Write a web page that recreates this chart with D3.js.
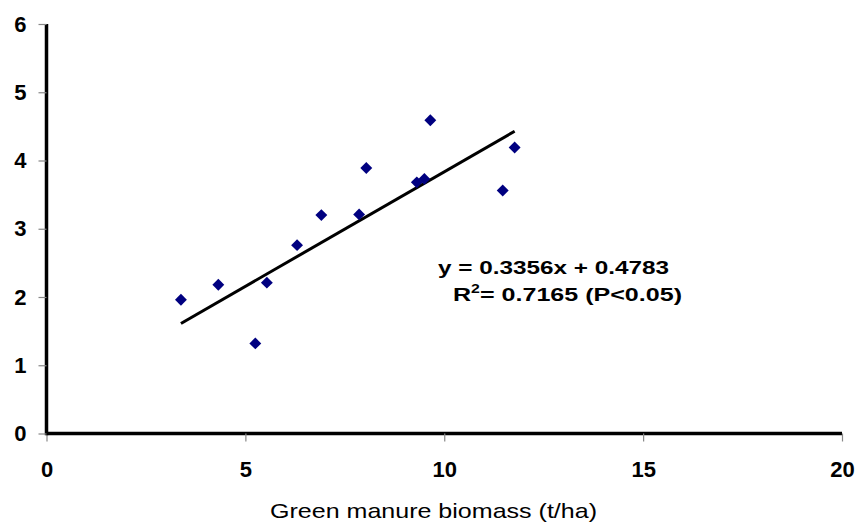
<!DOCTYPE html>
<html><head><meta charset="utf-8">
<script src="https://cdn.jsdelivr.net/npm/d3@7"></script>
<style>body{margin:0;background:#fff}svg{display:block}text{font-family:"Liberation Sans",Arial,sans-serif}</style>
</head><body>
<svg id="c" width="857" height="523"></svg>
<script>
const biomass = [3.38, 4.32, 5.25, 5.54, 6.30, 6.91, 7.86, 8.04, 9.31, 9.50, 9.65, 11.47, 11.77];
const yieldVals = [1.96, 2.18, 1.32, 2.21, 2.76, 3.20, 3.21, 3.89, 3.68, 3.73, 4.59, 3.56, 4.19];
const xTicks = [0, 5, 10, 15, 20];
const yTicks = [0, 1, 2, 3, 4, 5, 6];
const slope = 0.3356, intercept = 0.4783;
const eqText = "y = 0.3356x + 0.4783";
const xTitle = "Green manure biomass (t/ha)";

const svg = d3.select("#c");
const x = d3.scaleLinear().domain([0, 20]).range([46.5, 842]);
const y = d3.scaleLinear().domain([0, 6]).range([433.5, 24]);

// axes
const xa = svg.append("g").attr("transform", `translate(0,${y(0)})`)
  .call(d3.axisBottom(x).tickValues(xTicks).tickFormat(d3.format("d")).tickSize(8).tickPadding(20));
const ya = svg.append("g").attr("transform", `translate(${x(0)},0)`)
  .call(d3.axisLeft(y).tickValues(yTicks).tickFormat(d3.format("d")).tickSize(8).tickPadding(12));
[xa, ya].forEach(g => {
  g.select(".domain").attr("stroke", "#000").attr("stroke-width", 3.5);
  g.selectAll(".tick line").attr("stroke", "#888").attr("stroke-width", 1.2);
  g.selectAll(".tick text").attr("fill", "#000").attr("font-size", 22).attr("font-weight", "bold")
    .attr("font-family", "'Liberation Sans', Arial, sans-serif");
});
xa.select(".domain").attr("d", `M${x(0)},0H${x(20)}`);
ya.select(".domain").attr("d", `M0,${y(6)}V${y(0)+1.75}`);

// regression line
const xmin = d3.min(biomass), xmax = d3.max(biomass);
svg.append("line")
  .attr("x1", x(xmin)).attr("y1", y(slope * xmin + intercept))
  .attr("x2", x(xmax)).attr("y2", y(slope * xmax + intercept))
  .attr("stroke", "#000").attr("stroke-width", 3);

// points
const sym = d3.symbol().type(d3.symbolDiamond2).size(90);
svg.append("g").selectAll("path").data(biomass.map((b, i) => [b, yieldVals[i]]))
  .join("path")
  .attr("transform", d => `translate(${x(d[0])},${y(d[1])})`)
  .attr("d", sym).attr("fill", "#000080");

// equation
svg.append("text").attr("x", 438).attr("y", 274).attr("font-size", 19).attr("font-weight", "bold")
  .attr("textLength", 231).attr("lengthAdjust", "spacingAndGlyphs")
  .attr("fill", "#000").text(eqText);
const r2 = svg.append("text").attr("x", 453).attr("y", 301).attr("font-size", 19).attr("font-weight", "bold")
  .attr("textLength", 229).attr("lengthAdjust", "spacingAndGlyphs").attr("fill", "#000");
r2.append("tspan").text("R");
r2.append("tspan").attr("dy", -8).attr("font-size", 12).text("2");
r2.append("tspan").attr("dy", 8).text("= 0.7165 (P<0.05)");

// x title
svg.append("text").attr("x", 270).attr("y", 518)
  .attr("font-size", 21).attr("textLength", 327).attr("lengthAdjust", "spacingAndGlyphs")
  .attr("fill", "#000").text(xTitle);
</script>
</body></html>
